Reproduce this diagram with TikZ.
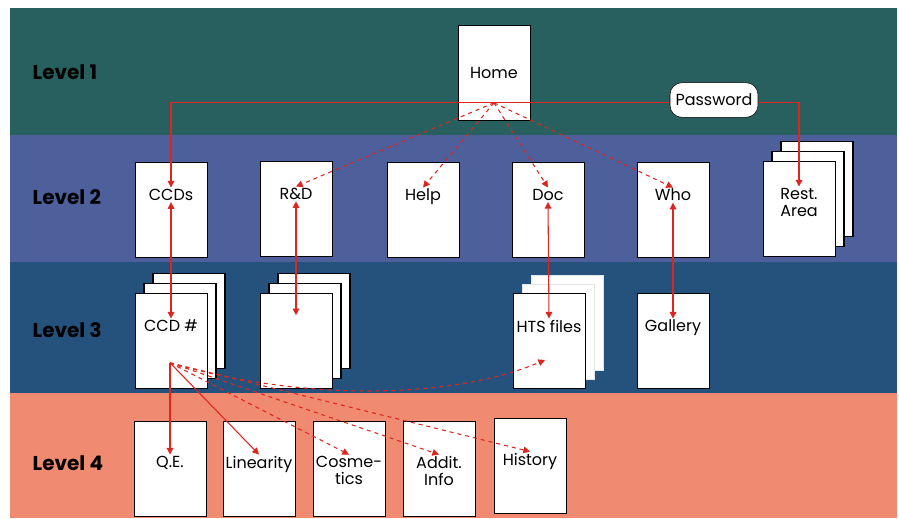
\documentclass[tikz,border=0pt]{standalone}
\usepackage{fontspec}
\setmainfont{Poppins}
\usetikzlibrary{arrows.meta,calc,shadows}

\definecolor{bandone}{RGB}{40,96,96}
\definecolor{bandtwo}{RGB}{78,96,156}
\definecolor{bandthree}{RGB}{36,82,124}
\definecolor{bandfour}{RGB}{240,138,112}
\definecolor{linkred}{RGB}{222,38,30}

\tikzset{
  pagebox/.style={draw=black, line width=0.7pt, fill=white, minimum width=54pt, minimum height=71pt, inner sep=0pt},
  boxtext/.style={font=\fontsize{12}{13}\selectfont, align=center, inner sep=1pt},
  doc/.style 2 args={pagebox, label={[boxtext, name=#1, anchor=north, yshift=-19pt]north:#2}},
  leaf/.style 2 args={pagebox, label={[boxtext, name=#1, anchor=north, yshift=-25pt]north:#2}},
  stack/.style={general shadow={shadow xshift=13.5pt, shadow yshift=15pt, draw=black, thick, fill=white},
                general shadow={shadow xshift=6.75pt, shadow yshift=7.5pt, draw=black, thick, fill=white}},
  faintstack/.style={general shadow={shadow xshift=13.5pt, shadow yshift=13.5pt, draw=black!10, fill=white},
                     general shadow={shadow xshift=6.75pt, shadow yshift=6.75pt, draw=black!10, fill=white}},
  levellabel/.style={font=\fontsize{15}{17}\selectfont\bfseries, anchor=west},
  link/.style={draw=linkred, line width=0.8pt, -{Triangle[length=5pt,width=5pt]}},
  fan/.style={link, dashed},
  twoway/.style={link, {Triangle[length=5pt,width=5pt]}-{Triangle[length=5pt,width=5pt]}}
}

\begin{document}
\begin{tikzpicture}[x=0.75pt, y=-0.75pt]
\useasboundingbox (0,0) rectangle (899,518);

% Background bands
\fill[bandone] (10,8) rectangle (897,135);
\fill[bandtwo] (10,135) rectangle (897,262);
\fill[bandthree] (10,262) rectangle (897,393);
\fill[bandfour] (10,393) rectangle (897,518);

% Level names
\node[levellabel] (lvlone) at (28,72) {Level 1};
\node[levellabel] (lvltwo) at (28,197) {Level 2};
\node[levellabel] (lvlthree) at (28,330) {Level 3};
\node[levellabel] (lvlfour) at (28,463) {Level 4};

% Level 1
\node[pagebox, boxtext] (home) at (494,73) {Home};

% Level 2
\node[doc={ccdsT}{CCDs}] (ccds) at (171,210) {};
\node[doc={rndT}{R\&D}] (rnd) at (296,209) {};
\node[doc={helpT}{Help}] (help) at (423,210) {};
\node[doc={docT}{Doc}] (docs) at (548,210) {};
\node[doc={whoT}{Who}] (who) at (673,210) {};
\node[doc={restT}{Rest.\\Area}, stack] (rest) at (799,209) {};

% Level 3
\node[doc={ccdnT}{CCD \#}, stack] (ccdn) at (171,341) {};
\node[pagebox, stack] (rndset) at (296,341) {};
\node[doc={htsT}{HTS files}, faintstack] (hts) at (549,341) {};
\node[doc={galT}{Gallery}] (gal) at (673,341) {};

% Level 4
\node[leaf={qeT}{Q.E.}] (qe) at (170,469) {};
\node[leaf={linT}{Linearity}] (lin) at (259,469) {};
\node[leaf={cosT}{Cosme-\\tics}] (cos) at (349,469) {};
\node[leaf={addT}{Addit.\\Info}] (add) at (439,469) {};
\node[leaf={hisT}{History}] (his) at (530,466) {};

% Links from Home
\coordinate (hub) at ($(home.south)+(0,-18)$);
\draw[link] (hub) -| (ccdsT.north);
\draw[link] (hub) -| (restT.north);
\foreach \dest in {rndT,helpT,docT,whoT}
  \draw[fan] (hub) -- (\dest.north);
\node[draw=black, fill=white, rounded corners=9pt, minimum width=66pt, minimum height=26pt, boxtext] (pass) at (714,100) {Password};

% Level 2 to level 3
\draw[twoway] (ccdsT.south) -- (ccdnT.north);
\draw[twoway] (rndT.south) -- ($(rndset.north)+(0,22)$);
\draw[twoway] (docT.south) -- (htsT.north);
\draw[twoway] (whoT.south) -- (galT.north);

% Links from CCD #
\coordinate (leafhub) at ($(ccdn.south)+(-1,-26)$);
\draw[link] (leafhub) -- (qeT.north);
\draw[link] (leafhub) -- (linT.north);
\foreach \dest in {cosT,addT,hisT}
  \draw[fan] (leafhub) -- (\dest.north);
\draw[fan] (leafhub) .. controls +(130,38) and +(-95,40) .. ($(hts.center)+(-4,19)$);
\end{tikzpicture}
\end{document}
